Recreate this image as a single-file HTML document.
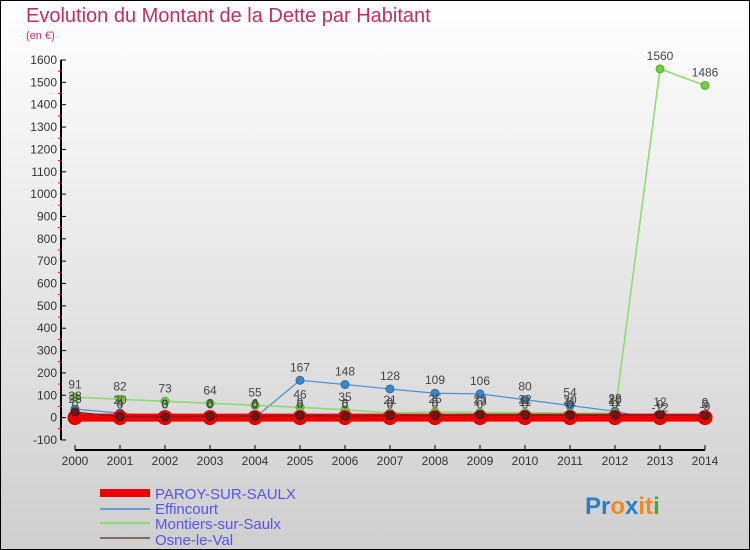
<!DOCTYPE html>
<html><head><meta charset="utf-8"><style>
body{margin:0;width:750px;height:550px;overflow:hidden}
svg{display:block;font-family:"Liberation Sans",sans-serif}
</style></head><body>
<svg width="750" height="550">
<defs><linearGradient id="bg" x1="0" y1="0" x2="0" y2="1"><stop offset="0" stop-color="#ffffff"/><stop offset="1" stop-color="#cfcfcf"/></linearGradient></defs>
<rect x="0.5" y="0.5" width="749" height="549" fill="url(#bg)" stroke="#000"/>
<text x="26" y="22" font-size="20" fill="#c0305a">Evolution du Montant de la Dette par Habitant</text>
<text x="26" y="39" font-size="11" fill="#c0305a">(en €)</text>
<g id="axes"></g><g id="series"></g><g id="labels"></g>
<g>
<rect x="100" y="489" width="50" height="8" fill="#e00"/>
<text x="155" y="499" font-size="15" fill="#5555ee">PAROY-SUR-SAULX</text>
<line x1="100" y1="509" x2="150" y2="509" stroke="#6699cc" stroke-width="2"/>
<text x="155" y="514" font-size="15" fill="#5555ee">Effincourt</text>
<line x1="100" y1="523" x2="150" y2="523" stroke="#88dd66" stroke-width="2"/>
<text x="155" y="529" font-size="15" fill="#5555ee">Montiers-sur-Saulx</text>
<line x1="100" y1="538" x2="150" y2="538" stroke="#886666" stroke-width="2"/>
<text x="155" y="545" font-size="15" fill="#5555ee">Osne-le-Val</text>
</g>
<text x="585" y="514" font-size="24" font-weight="bold"><tspan fill="#2a7fc9">Pr</tspan><tspan fill="#f08a1c">o</tspan><tspan fill="#2a7fc9">x</tspan><tspan fill="#f08a1c">it</tspan><tspan fill="#4aa83a">i</tspan></text>
</svg>
<script>
const years=[2000,2001,2002,2003,2004,2005,2006,2007,2008,2009,2010,2011,2012,2013,2014];
const paroy=[0,0,0,0,0,0,0,0,0,0,0,0,0,0,0];
const effincourt=[38,20,0,0,0,167,148,128,109,106,80,54,28,-12,-9];
const montiers=[91,82,73,64,55,46,35,21,25,23,22,20,20,1560,1486];
const osne=[25,4,3,6,6,9,6,9,9,13,11,11,11,12,9];
const yTicks=[-100,0,100,200,300,400,500,600,700,800,900,1000,1100,1200,1300,1400,1500,1600];
const NS='http://www.w3.org/2000/svg';
const x=i=>75+i*45;
const y=v=>417.6-v*0.2235;
function mk(p,t,a){const e=document.createElementNS(NS,t);for(const k in a)e.setAttribute(k,a[k]);p.appendChild(e);return e;}
const ax=document.getElementById('axes'),se=document.getElementById('series'),lb=document.getElementById('labels');
let l=mk(ax,'line',{x1:61,y1:y(1600),x2:61,y2:y(-100),stroke:'#000','stroke-width':2});


yTicks.forEach(v=>{
 mk(ax,'line',{x1:61,y1:y(v),x2:66,y2:y(v),stroke:'#000'});
 if(v<1600)mk(ax,'line',{x1:58,y1:y(v+50),x2:62,y2:y(v+50),stroke:'#e00'});
 const t=mk(ax,'text',{x:57,y:y(v)+4,'font-size':12,'text-anchor':'end',fill:'#333'});t.textContent=v;
 
 
});
l=mk(ax,'line',{x1:x(0),y1:450,x2:x(14),y2:450,stroke:'#000','stroke-width':2});


years.forEach((yr,i)=>{
 mk(ax,'line',{x1:x(i),y1:445,x2:x(i),y2:450,stroke:'#000'});
 const t=mk(ax,'text',{x:x(i),y:465,'font-size':12,'text-anchor':'middle',fill:'#333'});t.textContent=yr;
 
 
});
function series(d,name,col,w,r,pc,ps){
 const g=mk(se,'g',{});
 
 
 mk(g,'polyline',{points:d.map((v,i)=>x(i)+','+y(v)).join(' '),fill:'none',stroke:col,'stroke-width':w});
 d.forEach((v,i)=>{
  const c=mk(g,'circle',{cx:x(i),cy:y(v),r:r,fill:pc,stroke:ps,'stroke-width':1});
  
  
  const t=mk(lb,'text',{x:x(i),y:y(v)-9,'font-size':12,'text-anchor':'middle',fill:'#444'});t.textContent=v;
 });
}
series(effincourt,'effincourt','#4a90d0',1.2,4,'#3a88cc','#2a6ea8');
series(montiers,'montiers','#88dd66',1.5,4,'#77cc44','#55aa33');
series(paroy,'paroy','#e00',8,7,'#e00','#c00');
series(osne,'osne','#7a2020',1.2,4,'#6a1818','#441010');
</script>
</body></html>
